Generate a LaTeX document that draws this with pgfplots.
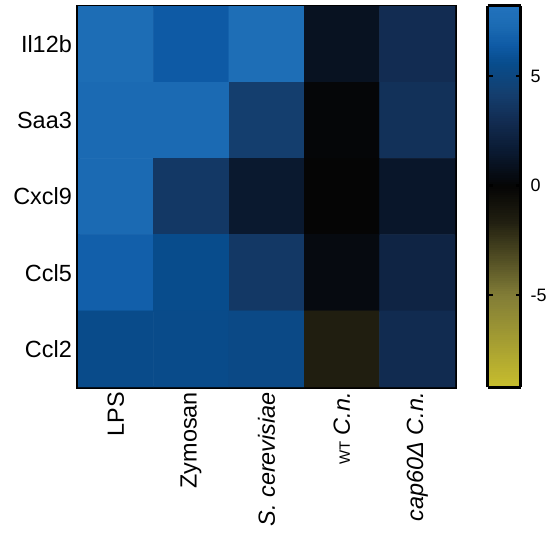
\documentclass[border=0pt]{standalone}
\usepackage{fontspec}
\setmainfont{Liberation Sans}
\usepackage{pgfplots}
\usepackage{pgfplotstable}
\pgfplotsset{compat=1.18}
\pgfplotsset{colormap={bluyel}{
 rgb255(0pt)=(200,190,45);
 rgb255(21pt)=(130,125,55);
 rgb255(38pt)=(32,30,16);
 rgb255(46pt)=(5,5,5);
 rgb255(54pt)=(10,26,50);
 rgb255(61pt)=(18,44,82);
 rgb255(67pt)=(20,62,110);
 rgb255(74pt)=(8,76,140);
 rgb255(78pt)=(14,90,165);
 rgb255(83pt)=(28,108,180);
 rgb255(87pt)=(34,114,188)}}
\pgfplotstableread{
x y v
0 0 7.5
1 0 6.4
2 0 7.6
3 0 1.0
4 0 3.0
0 1 7.3
1 1 7.3
2 1 4.2
3 1 0.1
4 1 3.3
0 2 7.3
1 2 3.8
2 2 1.5
3 2 0.0
4 2 1.3
0 3 6.7
1 3 5.6
2 3 3.8
3 3 0.4
4 3 2.4
0 4 5.5
1 4 5.5
2 4 5.3
3 4 -1.6
4 4 2.9
}\heat
\begin{document}
\begin{tikzpicture}
\useasboundingbox (0,0) rectangle (547bp,535bp);
\begin{axis}[
 at={(78bp,148bp)}, anchor=south west,
 scale only axis, width=377bp, height=381bp,
 xmin=-0.5, xmax=4.5, ymin=-0.5, ymax=4.5,
 y dir=reverse, enlargelimits=false,
 xtick={0,1,2,3,4}, ytick={0,1,2,3,4},
 xticklabels={LPS, Zymosan, \textit{S. cerevisiae}, {{\fontsize{15}{18}\selectfont WT} \textit{C.n.}}, \textit{cap60Δ C.n.}},
 yticklabels={Il12b, Saa3, Cxcl9, Ccl5, Ccl2},
 major tick length=0pt,
 axis line style={line width=3bp},
 tick label style={font=\fontsize{23.5}{28}\selectfont},
 xticklabel style={rotate=90, anchor=east, inner sep=5bp},
 yticklabel style={anchor=east, inner sep=6bp},
 colormap name=bluyel,
 point meta min=-9.2, point meta max=8.2,
 colorbar sampled,
 colorbar style={
   samples=175,
   at={(parent axis.north east)}, anchor=north west, xshift=24bp,
   scale only axis, width=33bp, height=381bp,
   ytick={-5,0,5}, yticklabels={-5,0,5},
   ytick pos=both, yticklabel pos=right,
   tick align=inside, major tick length=5bp,
   tick style={line width=2.5bp, black},
   axis line style={line width=3bp},
   yticklabel style={font=\fontsize{18}{22}\selectfont, anchor=west, inner sep=0pt, xshift=10bp},
 },
]
\addplot[matrix plot*, mesh/cols=5, point meta=explicit] table[x=x, y=y, meta=v] {\heat};
\end{axis}
\end{tikzpicture}
\end{document}
